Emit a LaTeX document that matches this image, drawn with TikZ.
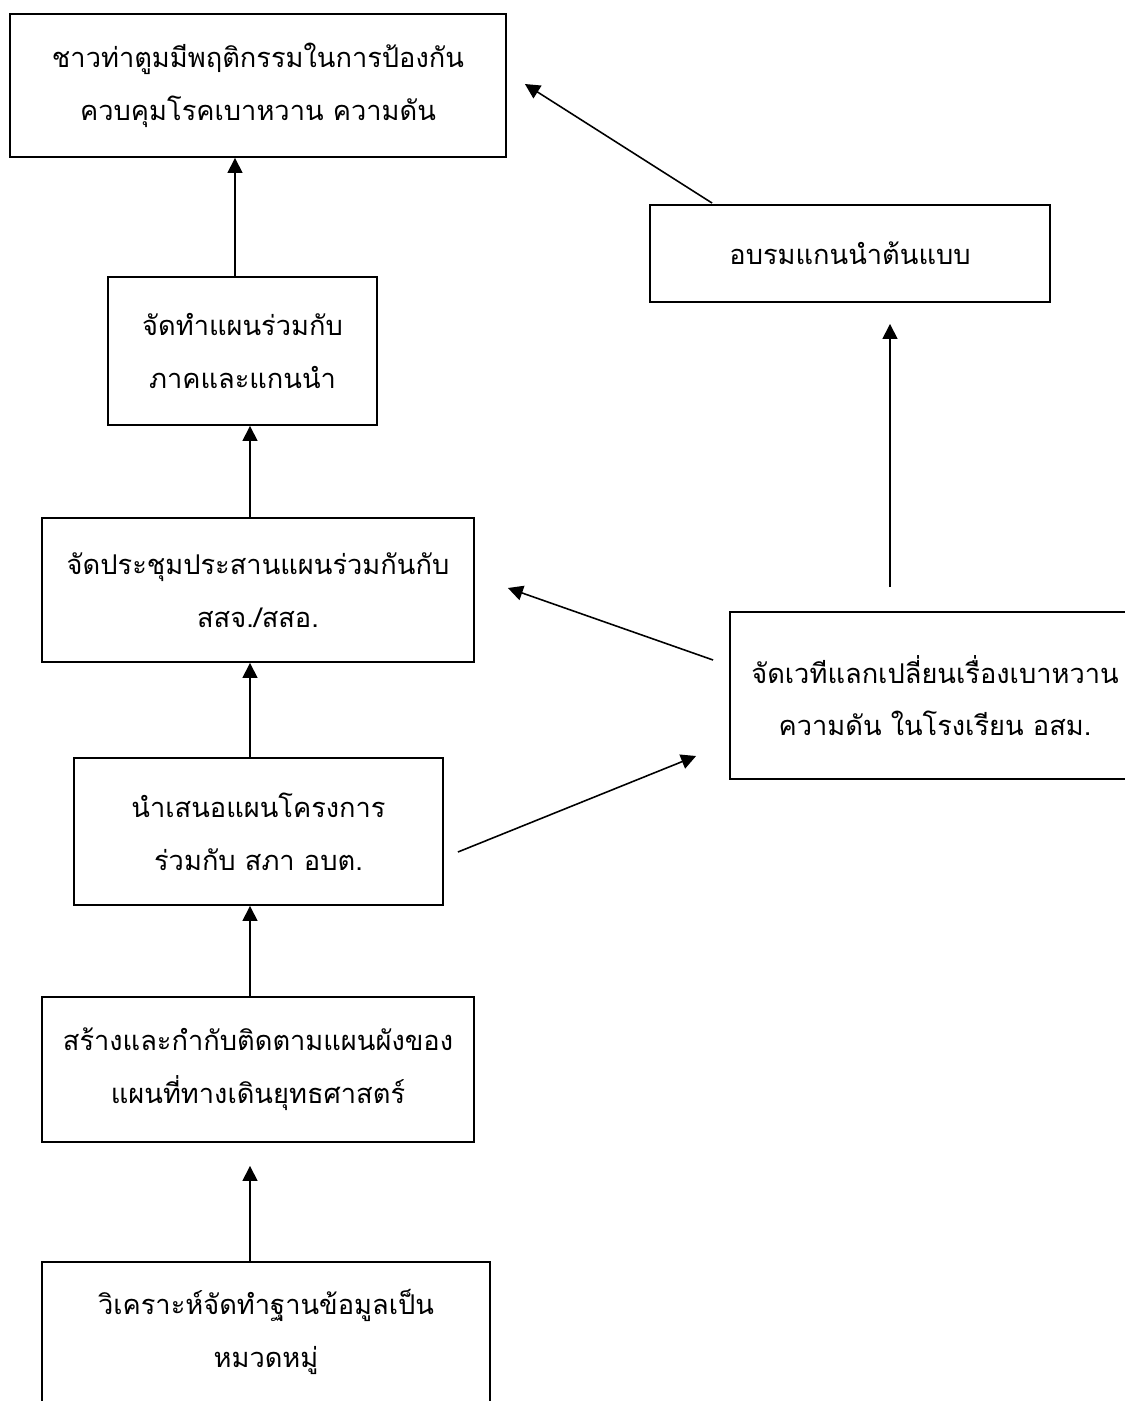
\documentclass[tikz,border=0pt]{standalone}
\usepackage{fontspec}
\newfontfamily\thaifont[Script=Thai]{Loma}
\usetikzlibrary{arrows.meta}
\tikzset{font=\thaifont\fontsize{15.5pt}{30pt}\selectfont}
\tikzset{box/.style={draw,line width=1.1pt,rectangle,align=center,inner sep=0pt}}
\tikzset{flow/.style={-{Triangle[length=8.5pt,width=8.5pt]},line width=0.9pt}}

\begin{document}
\begin{tikzpicture}[x=0.02cm,y=-0.02cm]
  \useasboundingbox (0,0) rectangle (1125,1401);

  \node[box,minimum width=9.92cm,minimum height=2.86cm] (goal) at (258,85.5)
    {ชาวท่าตูมมีพฤติกรรมในการป้องกัน\\ควบคุมโรคเบาหวาน ความดัน};
  \node[box,minimum width=8cm,minimum height=1.94cm] (train) at (850,253.5)
    {อบรมแกนนำต้นแบบ};
  \node[box,minimum width=5.38cm,minimum height=2.96cm] (plan) at (242.5,351)
    {จัดทำแผนร่วมกับ\\ภาคและแกนนำ};
  \node[box,minimum width=8.64cm,minimum height=2.88cm] (meet) at (258,590)
    {จัดประชุมประสานแผนร่วมกันกับ\\สสจ./สสอ.};
  \node[box,minimum width=8.2cm,minimum height=3.34cm] (forum) at (935,695.5)
    {จัดเวทีแลกเปลี่ยนเรื่องเบาหวาน\\ความดัน ในโรงเรียน อสม.};
  \node[box,minimum width=7.38cm,minimum height=2.94cm] (present) at (258.5,831.5)
    {นำเสนอแผนโครงการ\\ร่วมกับ สภา อบต.};
  \node[box,minimum width=8.64cm,minimum height=2.9cm] (build) at (258,1069.5)
    {สร้างและกำกับติดตามแผนผังของ\\แผนที่ทางเดินยุทธศาสตร์};
  \node[box,minimum width=8.96cm,minimum height=2.8cm] (analyse) at (266,1332)
    {วิเคราะห์จัดทำฐานข้อมูลเป็น\\หมวดหมู่};

  % main chain
  \draw[flow] (250,0 |- analyse.north) -- ([yshift=-0.46cm]250,0 |- build.south);
  \draw[flow] (250,0 |- build.north) -- (250,0 |- present.south);
  \draw[flow] (250,0 |- present.north) -- (250,0 |- meet.south);
  \draw[flow] (250,0 |- meet.north) -- (250,0 |- plan.south);
  \draw[flow] (235,0 |- plan.north) -- (235,0 |- goal.south);

  % side branch
  \draw[flow] ([shift={(14,20.5)}]present.east) -- ([shift={(-33,60.5)}]forum.west);
  \draw[flow] ([shift={(-16,-35.5)}]forum.west) -- ([shift={(33,-2)}]meet.east);
  \draw[flow] ([yshift=0.48cm]890,0 |- forum.north) -- ([yshift=-0.42cm]890,0 |- train.south);
  \draw[flow] ([shift={(63,-1)}]train.north west) -- ([shift={(18,-1.5)}]goal.east);
\end{tikzpicture}
\end{document}
